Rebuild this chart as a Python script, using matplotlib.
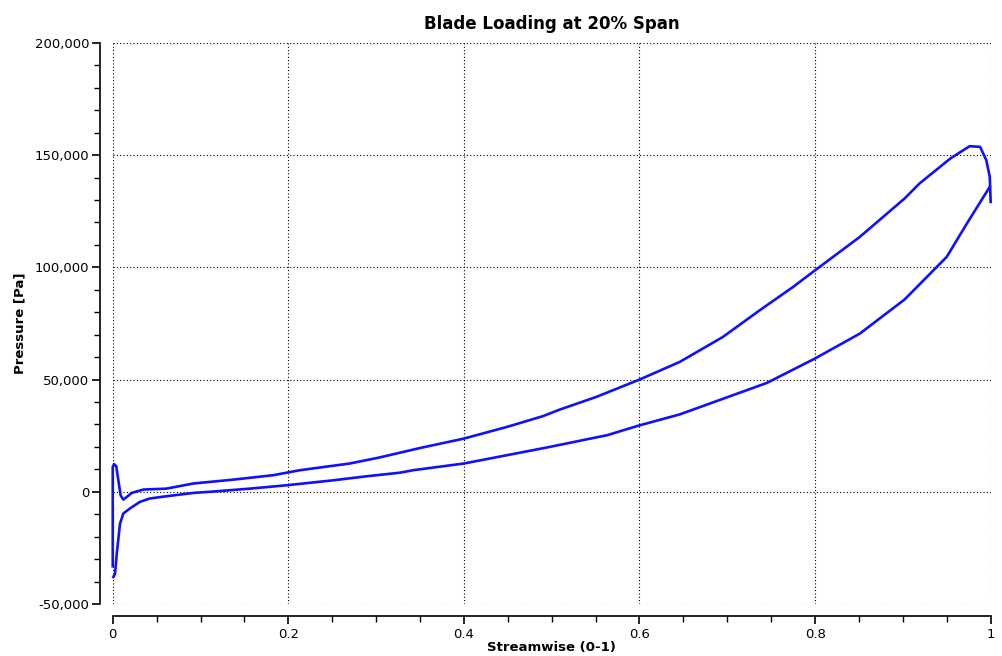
import numpy as np
import matplotlib.pyplot as plt
from matplotlib.ticker import MultipleLocator, FuncFormatter

# upper branch of the loop (higher pressure towards trailing edge)
upper_x = [0.0, 0.0, 0.0015, 0.004, 0.0064, 0.009, 0.012, 0.016, 0.0216, 0.035,
           0.061, 0.092, 0.137, 0.183, 0.213, 0.270, 0.304, 0.35, 0.4, 0.449,
           0.490, 0.509, 0.551, 0.6, 0.646, 0.695, 0.737, 0.775, 0.8, 0.851,
           0.902, 0.919, 0.954, 0.976, 0.988, 0.995, 0.999, 1.0]
upper_p = [-33200, 11100, 12300, 11400, 5100, -1600, -3500, -2300, -500, 1000,
           1400, 3700, 5400, 7400, 9600, 12600, 15300, 19500, 23700, 28900,
           33700, 36600, 42300, 50000, 57900, 69000, 80900, 91300, 98700, 113600,
           130700, 137400, 148500, 154000, 153700, 147800, 140300, 129200]

# lower branch of the loop
lower_x = [0.0007, 0.0026, 0.0046, 0.0083, 0.012, 0.020, 0.031, 0.042, 0.061,
           0.092, 0.111, 0.156, 0.198, 0.251, 0.289, 0.327, 0.342, 0.4, 0.449,
           0.494, 0.563, 0.6, 0.646, 0.680, 0.745, 0.8, 0.851, 0.902, 0.950,
           0.973, 0.999]
lower_p = [-38000, -36500, -27500, -14200, -9700, -7300, -4500, -3000, -2000,
           -500, 0, 1400, 2900, 5100, 6900, 8500, 9600, 12600, 16300,
           19700, 25200, 29600, 34500, 39300, 48500, 59400, 70500, 85700, 104700,
           119600, 135900]

fig = plt.figure(figsize=(10.03, 6.56), dpi=100)
ax = fig.add_axes([0.1124, 0.0793, 0.8753, 0.8552])

ax.plot(upper_x, upper_p, color='#1010ff', lw=1.9, clip_on=False, zorder=3)
ax.plot(lower_x, lower_p, color='#1010ff', lw=1.9, clip_on=False, zorder=3)

ax.set_xlim(0, 1)
ax.set_ylim(-50000, 200000)

ax.xaxis.set_major_locator(MultipleLocator(0.2))
ax.xaxis.set_minor_locator(MultipleLocator(0.05))
ax.yaxis.set_major_locator(MultipleLocator(50000))
ax.yaxis.set_minor_locator(MultipleLocator(10000))
ax.xaxis.set_major_formatter(FuncFormatter(lambda v, p: '%g' % round(v, 3)))
ax.yaxis.set_major_formatter(FuncFormatter(lambda v, p: '{:,.0f}'.format(v).replace('\u2212', '-')))

for s in ['top', 'right']:
    ax.spines[s].set_visible(False)
for s in ['left', 'bottom']:
    ax.spines[s].set_position(('outward', 9))
    ax.spines[s].set_linewidth(1.2)

ax.tick_params(which='major', direction='out', length=6, width=1.2, labelsize=9.5, pad=2)
ax.tick_params(which='minor', direction='out', length=4, width=1.0)

ax.grid(True, which='major', color='black', linestyle=(0, (1, 2)), linewidth=0.8)

ax.set_title('Blade Loading at 20% Span', fontsize=12, fontweight='bold', pad=10)
ax.set_xlabel('Streamwise (0-1)', fontsize=9.5, fontweight='bold', labelpad=0)
ax.set_ylabel('Pressure [Pa]', fontsize=9.5, fontweight='bold', labelpad=6)

fig.savefig('out.png', dpi=100)
